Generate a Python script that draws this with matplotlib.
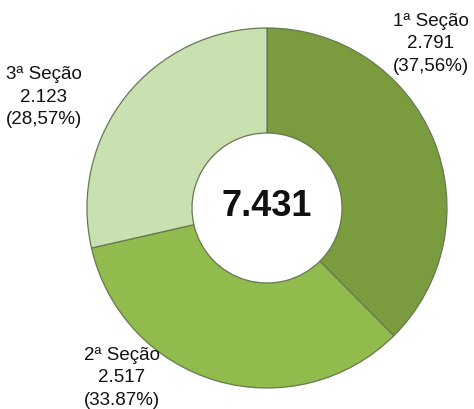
import matplotlib
matplotlib.use("Agg")
import matplotlib.pyplot as plt

# dados do gráfico
secoes = ["1ª Seção", "2ª Seção", "3ª Seção"]
valores = [2791, 2517, 2123]
percentuais = ["37,56%", "33.87%", "28,57%"]
total = "7.431"
cores = ["#7a9c3e", "#91bb4c", "#c9e0b0"]

plt.rcParams["font.family"] = ["Liberation Sans", "DejaVu Sans"]

fig = plt.figure(figsize=(4.74, 4.09), dpi=100)
ax = fig.add_axes([0, 0, 1, 1])

ax.pie(valores, colors=cores, startangle=90, counterclock=False,
       center=(267, 201), radius=180,
       wedgeprops=dict(width=105, edgecolor="#66784f", linewidth=0.9))

# a pizza redefine os limites, então ajusta depois
ax.set_xlim(0, 474)
ax.set_ylim(0, 409)
ax.set_aspect("equal")
ax.axis("off")

ax.text(267, 202, total, ha="center", va="center", fontsize=26,
        fontweight="bold", color="#111111")

# posição dos rótulos
pos = [(431, 365), (122, 31), (44, 312)]
for nome, v, p, (x, y) in zip(secoes, valores, percentuais, pos):
    rotulo = "%s\n%s\n(%s)" % (nome, f"{v:,}".replace(",", "."), p)
    ax.text(x, y, rotulo, ha="center", va="center", fontsize=13.5,
            linespacing=1.4, color="#111111")

fig.savefig("out.png", dpi=100)
